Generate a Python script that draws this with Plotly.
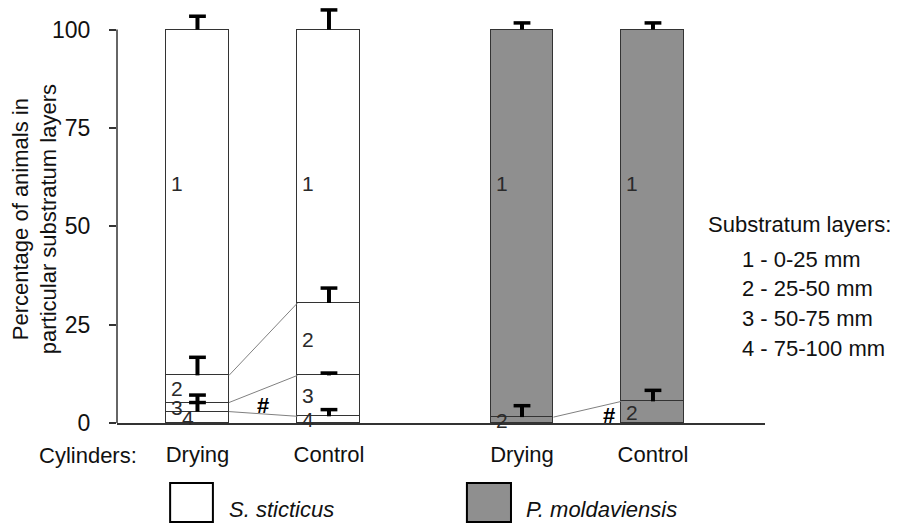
import numpy as np
import plotly.graph_objects as go

# ---------------- data ----------------
bar_labels = ["Drying", "Control", "Drying", "Control"]
species = ["S. sticticus", "S. sticticus", "P. moldaviensis", "P. moldaviensis"]
x_pos = [1.0, 2.0, 3.468, 4.464]

layer1 = [87.9, 69.5, 98.5, 94.5]   # 0-25 mm
layer2 = [6.9, 18.4, 1.5, 5.5]      # 25-50 mm
layer3 = [2.3, 10.4, 0.0, 0.0]      # 50-75 mm
layer4 = [2.9, 1.7, 0.0, 0.0]       # 75-100 mm

err1 = [3.4, 5.0, 1.7, 1.7]
err2 = [4.6, 3.8, 2.9, 2.8]
err3 = [1.9, 0.6, 0.0, 0.0]
err4 = [2.3, 1.7, 0.0, 0.0]

legend_lines = ["1 - 0-25 mm", "2 - 25-50 mm", "3 - 50-75 mm", "4 - 75-100 mm"]
y_ticks = [0, 25, 50, 75, 100]

# ---------------- style ----------------
FONT = "Liberation Sans, Arial, Helvetica, sans-serif"
fill = {"S. sticticus": "#ffffff", "P. moldaviensis": "#8f8f8f"}
bar_w = 0.479
edge = "#333333"

fig = go.Figure()

# stacked bars, bottom layer first
layers_bottom_up = [layer4, layer3, layer2, layer1]
errs_bottom_up = [err4, err3, err2, err1]
names_bottom_up = ["4", "3", "2", "1"]
colors = [fill[s] for s in species]
for vals, nm in zip(layers_bottom_up, names_bottom_up):
    fig.add_trace(go.Bar(
        x=x_pos, y=vals, width=bar_w, name=nm,
        marker=dict(color=colors, line=dict(color=edge, width=1.5)),
        showlegend=False, hoverinfo="skip"))

stack = np.cumsum(np.array(layers_bottom_up), axis=0)  # tops of each layer
xp = np.array(x_pos)

# connecting thin lines between Drying and Control boundaries
pairs = [(0, 1), (2, 3)]
for a, b in pairs:
    for k in range(3):  # boundaries above layer4, layer3, layer2
        ya, yb = stack[k][a], stack[k][b]
        if ya > 0 or yb > 0:
            fig.add_trace(go.Scatter(
                x=[xp[a] + bar_w / 2, xp[b] - bar_w / 2], y=[ya, yb],
                mode="lines", line=dict(color="#808080", width=1),
                showlegend=False, hoverinfo="skip"))

# error bars (upward only): stems + caps
sx, sy, cx, cy = [], [], [], []
for k in range(4):
    for i in range(4):
        e = errs_bottom_up[k][i]
        if e > 0:
            top = stack[k][i]
            sx += [xp[i], xp[i], None]
            sy += [top, top + e, None]
            cx.append(xp[i])
            cy.append(top + e)
fig.add_trace(go.Scatter(x=sx, y=sy, mode="lines",
                         line=dict(color="#000000", width=4),
                         showlegend=False, hoverinfo="skip"))
fig.add_trace(go.Scatter(x=cx, y=cy, mode="markers",
                         marker=dict(symbol="line-ew", size=12,
                                     line=dict(color="#000000", width=3.5)),
                         showlegend=False, hoverinfo="skip"))

annotations = []
# layer numbers inside bars
label_y1 = 61
for k, nm in enumerate(names_bottom_up):
    for i in range(4):
        v = layers_bottom_up[k][i]
        if v <= 0:
            continue
        base = stack[k][i] - v
        y = label_y1 if nm == "1" else base + v / 2
        dx = 3
        if nm == "4" and i == 0:
            dx = 14
        annotations.append(dict(
            x=xp[i] - bar_w / 2, y=y, xref="x", yref="y", text=nm,
            showarrow=False, xanchor="left", yanchor="middle", xshift=dx,
            font=dict(size=21, color="#2a2a2a", family=FONT)))

# significance marks
annotations.append(dict(x=1.498, y=4.4, xref="x", yref="y", text="<b>#</b>",
                        showarrow=False, font=dict(size=22, color="#000", family=FONT)))
annotations.append(dict(x=4.13, y=1.8, xref="x", yref="y", text="<b>#</b>",
                        showarrow=False, font=dict(size=22, color="#000", family=FONT)))

# y axis title
annotations.append(dict(
    x=-0.1265, y=51.8, xref="paper", yref="y",
    text="Percentage of animals in<br>particular substratum layers",
    textangle=-90, showarrow=False, xanchor="center", yanchor="middle",
    font=dict(size=22, color="#111", family=FONT)))

# "Cylinders:"
annotations.append(dict(x=-0.045, y=-0.077, xref="paper", yref="paper",
                        text="Cylinders:", showarrow=False,
                        xanchor="center", yanchor="middle",
                        font=dict(size=22, color="#111", family=FONT)))

# right-side key
annotations.append(dict(x=1.054, y=0.475, xref="paper", yref="paper",
                        text="Substratum layers:", showarrow=False,
                        xanchor="center", yanchor="middle",
                        font=dict(size=22, color="#111", family=FONT)))
for j, t in enumerate(legend_lines):
    annotations.append(dict(x=0.961, y=0.393 - j * 0.0715, xref="paper", yref="paper",
                            text=t, showarrow=False, xanchor="left", yanchor="middle",
                            font=dict(size=22, color="#111", family=FONT)))

# species key (boxes + italic names)
shapes = [
    dict(type="line", xref="paper", yref="y", x0=0, x1=0, y0=0, y1=100,
         line=dict(color=edge, width=1.5)),
    dict(type="rect", xref="paper", yref="paper", x0=0.082, x1=0.148,
         y0=-0.2374, y1=-0.1439, fillcolor=fill["S. sticticus"],
         line=dict(color="#000", width=2)),
    dict(type="rect", xref="paper", yref="paper", x0=0.540, x1=0.608,
         y0=-0.2374, y1=-0.1439, fillcolor=fill["P. moldaviensis"],
         line=dict(color="#000", width=2)),
]
annotations.append(dict(x=0.170, y=-0.2086, xref="paper", yref="paper",
                        text="<i>S. sticticus</i>", showarrow=False,
                        xanchor="left", yanchor="middle",
                        font=dict(size=22, color="#111", family=FONT)))
annotations.append(dict(x=0.628, y=-0.2086, xref="paper", yref="paper",
                        text="<i>P. moldaviensis</i>", showarrow=False,
                        xanchor="left", yanchor="middle",
                        font=dict(size=22, color="#111", family=FONT)))

fig.update_layout(
    width=898, height=523,
    margin=dict(l=117, r=133, t=6, b=100, pad=0),
    barmode="stack", bargap=0,
    plot_bgcolor="white", paper_bgcolor="white",
    font=dict(family=FONT, size=22, color="#111"),
    shapes=shapes, annotations=annotations,
    xaxis=dict(range=[0.388, 5.316], tickvals=x_pos, ticktext=bar_labels,
               ticks="", showline=True, linecolor=edge, linewidth=1.5,
               showgrid=False, zeroline=False, ticklabelstandoff=11,
               tickfont=dict(size=22, color="#111", family=FONT)),
    yaxis=dict(range=[0, 106], tickvals=y_ticks, ticks="outside", ticklen=7,
               tickwidth=1.5, tickcolor=edge, showline=False, showgrid=False,
               zeroline=False, ticklabelstandoff=14,
               tickfont=dict(size=23, color="#111", family=FONT)),
)

fig.write_html("out.html")
